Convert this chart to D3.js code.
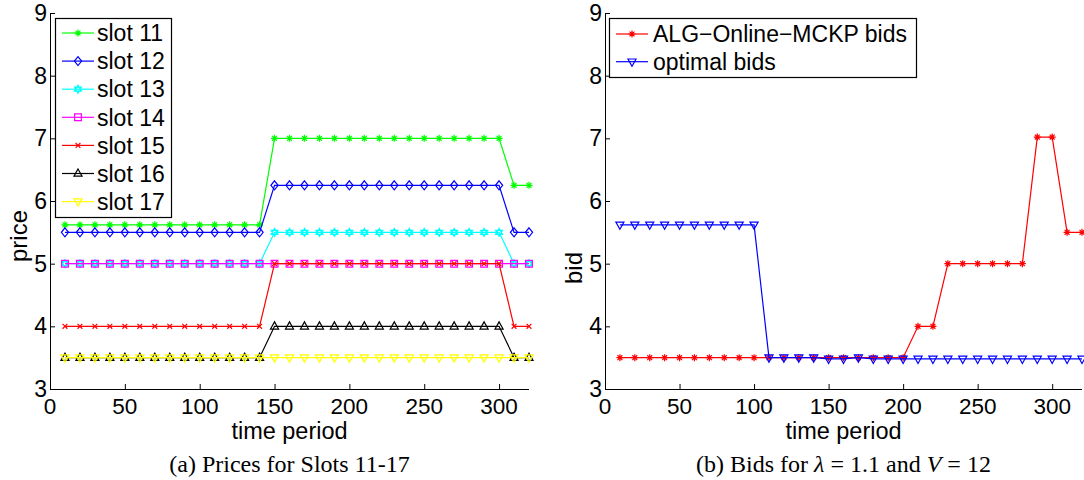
<!DOCTYPE html>
<html>
<head>
<meta charset="utf-8">
<script src="https://cdn.jsdelivr.net/npm/d3@7"></script>
<style>
  body { margin: 0; background: #fff; }
  svg { display: block; font-family: "Liberation Sans", Arial, sans-serif; }
</style>
</head>
<body>
<svg id="chart" width="1084" height="480"></svg>
<script>
// time periods (x values) shared by both panels
const periods = [10, 20, 30, 40, 50, 60, 70, 80, 90, 100, 110, 120, 130, 140, 150, 160,
                 170, 180, 190, 200, 210, 220, 230, 240, 250, 260, 270, 280, 290, 300, 310, 320];

// panel (a): prices for slots 11-17
const slotNames = ["slot 11", "slot 12", "slot 13", "slot 14", "slot 15", "slot 16", "slot 17"];
const slot11 = [5.62, 5.62, 5.62, 5.62, 5.62, 5.62, 5.62, 5.62, 5.62, 5.62, 5.62, 5.62, 5.62, 5.62,
                7, 7, 7, 7, 7, 7, 7, 7, 7, 7, 7, 7, 7, 7, 7, 7, 6.25, 6.25];
const slot12 = [5.5, 5.5, 5.5, 5.5, 5.5, 5.5, 5.5, 5.5, 5.5, 5.5, 5.5, 5.5, 5.5, 5.5,
                6.25, 6.25, 6.25, 6.25, 6.25, 6.25, 6.25, 6.25, 6.25, 6.25, 6.25, 6.25, 6.25, 6.25, 6.25, 6.25, 5.5, 5.5];
const slot13 = [5, 5, 5, 5, 5, 5, 5, 5, 5, 5, 5, 5, 5, 5,
                5.5, 5.5, 5.5, 5.5, 5.5, 5.5, 5.5, 5.5, 5.5, 5.5, 5.5, 5.5, 5.5, 5.5, 5.5, 5.5, 5, 5];
const slot14 = [5, 5, 5, 5, 5, 5, 5, 5, 5, 5, 5, 5, 5, 5,
                5, 5, 5, 5, 5, 5, 5, 5, 5, 5, 5, 5, 5, 5, 5, 5, 5, 5];
const slot15 = [4, 4, 4, 4, 4, 4, 4, 4, 4, 4, 4, 4, 4, 4,
                5, 5, 5, 5, 5, 5, 5, 5, 5, 5, 5, 5, 5, 5, 5, 5, 4, 4];
const slot16 = [3.5, 3.5, 3.5, 3.5, 3.5, 3.5, 3.5, 3.5, 3.5, 3.5, 3.5, 3.5, 3.5, 3.5,
                4, 4, 4, 4, 4, 4, 4, 4, 4, 4, 4, 4, 4, 4, 4, 4, 3.5, 3.5];
const slot17 = [3.5, 3.5, 3.5, 3.5, 3.5, 3.5, 3.5, 3.5, 3.5, 3.5, 3.5, 3.5, 3.5, 3.5,
                3.5, 3.5, 3.5, 3.5, 3.5, 3.5, 3.5, 3.5, 3.5, 3.5, 3.5, 3.5, 3.5, 3.5, 3.5, 3.5, 3.5, 3.5];

// panel (b): bids
const bidNames = ["ALG\u2212Online\u2212MCKP bids", "optimal bids"];
const algBids = [3.5, 3.5, 3.5, 3.5, 3.5, 3.5, 3.5, 3.5, 3.5, 3.5, 3.5, 3.5, 3.5, 3.5, 3.5, 3.5,
                 3.5, 3.5, 3.5, 3.5, 4, 4, 5, 5, 5, 5, 5, 5, 7.02, 7.02, 5.5, 5.5];
const optBids = [5.62, 5.62, 5.62, 5.62, 5.62, 5.62, 5.62, 5.62, 5.62, 5.62, 3.5, 3.5, 3.5, 3.5, 3.48, 3.48,
                 3.5, 3.48, 3.48, 3.48, 3.48, 3.48, 3.48, 3.48, 3.48, 3.48, 3.48, 3.48, 3.48, 3.48, 3.48, 3.48];

const xTicks = [0, 50, 100, 150, 200, 250, 300];
const yTicks = [3, 4, 5, 6, 7, 8, 9];

// marker shapes, r = half size in px
const markers = {
  star: r => `M${-r},0H${r}M0,${-r}V${r}M${-.7*r},${-.7*r}L${.7*r},${.7*r}M${-.7*r},${.7*r}L${.7*r},${-.7*r}`,
  diamond: r => `M0,${-r}L${r*.8},0L0,${r}L${-r*.8},0Z`,
  hexagram: r => `M0,${-r}L${r*.87},${r*.5}L${-r*.87},${r*.5}ZM0,${r}L${r*.87},${-r*.5}L${-r*.87},${-r*.5}Z`,
  square: r => `M${-r*.75},${-r*.75}H${r*.75}V${r*.75}H${-r*.75}Z`,
  cross: r => `M${-r*.6},${-r*.6}L${r*.6},${r*.6}M${-r*.6},${r*.6}L${r*.6},${-r*.6}`,
  triUp: r => `M0,${-r}L${r*.9},${r*.6}L${-r*.9},${r*.6}Z`,
  triDown: r => `M0,${r}L${r*.9},${-r*.6}L${-r*.9},${-r*.6}Z`
};

const svg = d3.select('#chart');

const drawPanel = (opts) => {
  const { left, right, top, bottom, series, yLabel, yLabelY, caption, legend } = opts;
  const g = svg.append('g');

  const x = d3.scaleLinear().domain([0, 320]).range([left, right]);
  const y = d3.scaleLinear().domain([3, 9]).range([bottom, top]);

  // axes (left and bottom only, ticks inward)
  const xAxis = g.append('g')
    .attr('transform', `translate(0,${bottom})`)
    .call(d3.axisTop(x).tickValues(xTicks).tickSize(5).tickFormat(''));
  xAxis.select('.domain').attr('d', `M${left},0.5H${right}`).attr('stroke', '#000');

  const yAxis = g.append('g')
    .attr('transform', `translate(${left},0)`)
    .call(d3.axisRight(y).tickValues(yTicks).tickSize(5).tickFormat(''));
  yAxis.select('.domain').attr('d', `M0.5,${top}V${bottom}`).attr('stroke', '#000');

  g.selectAll('.xlab').data(xTicks).enter().append('text')
    .attr('x', d => x(d))
    .attr('y', bottom + 25)
    .attr('text-anchor', 'middle')
    .attr('font-size', 22.5)
    .text(d => d);

  g.selectAll('.ylab').data(yTicks).enter().append('text')
    .attr('x', left - 3)
    .attr('y', d => y(d))
    .attr('dy', '0.35em')
    .attr('text-anchor', 'end')
    .attr('font-size', 23)
    .text(d => d);

  g.append('text')
    .attr('x', (left + right) / 2)
    .attr('y', bottom + 50)
    .attr('text-anchor', 'middle')
    .attr('font-size', 23.5)
    .text('time period');

  g.append('text')
    .attr('transform', `translate(${left - 23},${yLabelY}) rotate(-90)`)
    .attr('text-anchor', 'middle')
    .attr('font-size', 24)
    .text(yLabel);

  const line = d3.line()
    .x((d, i) => x(periods[i]))
    .y(d => y(d));

  series.forEach(s => {
    const sg = g.append('g');
    sg.append('path')
      .attr('d', line(s.values))
      .attr('fill', 'none')
      .attr('stroke', s.color)
      .attr('stroke-width', 1.2);
    sg.selectAll('path.mk').data(s.values).enter().append('path')
      .attr('class', 'mk')
      .attr('transform', (d, i) => `translate(${x(periods[i])},${y(d)})`)
      .attr('d', markers[s.marker](s.size || 4))
      .attr('fill', 'none')
      .attr('stroke', s.color)
      .attr('stroke-width', 1.2);
  });

  // legend
  const lg = g.append('g');
  lg.append('rect')
    .attr('x', legend.x + 0.5).attr('y', legend.y + 0.5)
    .attr('width', legend.w).attr('height', legend.h)
    .attr('fill', '#fff').attr('stroke', '#000').attr('stroke-width', 1.2);
  series.forEach((s, i) => {
    const cy = legend.y + legend.first + i * legend.step;
    lg.append('line')
      .attr('x1', legend.x + 7).attr('x2', legend.x + 39)
      .attr('y1', cy).attr('y2', cy)
      .attr('stroke', s.color).attr('stroke-width', 1.2);
    lg.append('path')
      .attr('transform', `translate(${legend.x + 23},${cy})`)
      .attr('d', markers[s.marker](s.size || 4))
      .attr('fill', 'none').attr('stroke', s.color).attr('stroke-width', 1.2);
    lg.append('text')
      .attr('x', legend.x + legend.textX).attr('y', cy)
      .attr('dy', '0.36em')
      .attr('font-size', 23)
      .text(s.name);
  });

  const cap = g.append('text')
    .attr('x', (left + right) / 2)
    .attr('y', 472)
    .attr('text-anchor', 'middle')
    .attr('font-family', '"Liberation Serif", "Times New Roman", serif')
    .attr('font-size', 24);
  caption.forEach(part => {
    cap.append('tspan')
      .attr('font-style', part.italic ? 'italic' : 'normal')
      .text(part.t);
  });
};

drawPanel({
  left: 50, right: 529, top: 13, bottom: 389,
  yLabel: 'price', yLabelY: 236,
  series: [
    { name: slotNames[0], values: slot11, color: '#00ff00', marker: 'star', size: 3.5 },
    { name: slotNames[1], values: slot12, color: '#0000ff', marker: 'diamond', size: 4.5 },
    { name: slotNames[2], values: slot13, color: '#00ffff', marker: 'hexagram', size: 4 },
    { name: slotNames[3], values: slot14, color: '#ff00ff', marker: 'square', size: 4.5 },
    { name: slotNames[4], values: slot15, color: '#ff0000', marker: 'cross', size: 4 },
    { name: slotNames[5], values: slot16, color: '#000000', marker: 'triUp', size: 4.5 },
    { name: slotNames[6], values: slot17, color: '#ffff00', marker: 'triDown', size: 4.5 }
  ],
  legend: { x: 55, y: 18, w: 116, h: 199, first: 15, step: 28.1, textX: 42 },
  caption: [{ t: '(a) Prices for Slots 11-17' }]
});

drawPanel({
  left: 605, right: 1082, top: 13, bottom: 389,
  yLabel: 'bid', yLabelY: 268,
  series: [
    { name: bidNames[0], values: algBids, color: '#ff0000', marker: 'star', size: 3.5 },
    { name: bidNames[1], values: optBids, color: '#0000ff', marker: 'triDown', size: 4.5 }
  ],
  legend: { x: 609, y: 18, w: 307, h: 59, first: 16, step: 27.7, textX: 44 },
  caption: [{ t: '(b) Bids for ' }, { t: '\u03bb', italic: true }, { t: ' = 1.1 and ' },
            { t: 'V', italic: true }, { t: ' = 12' }]
});
</script>
</body>
</html>
